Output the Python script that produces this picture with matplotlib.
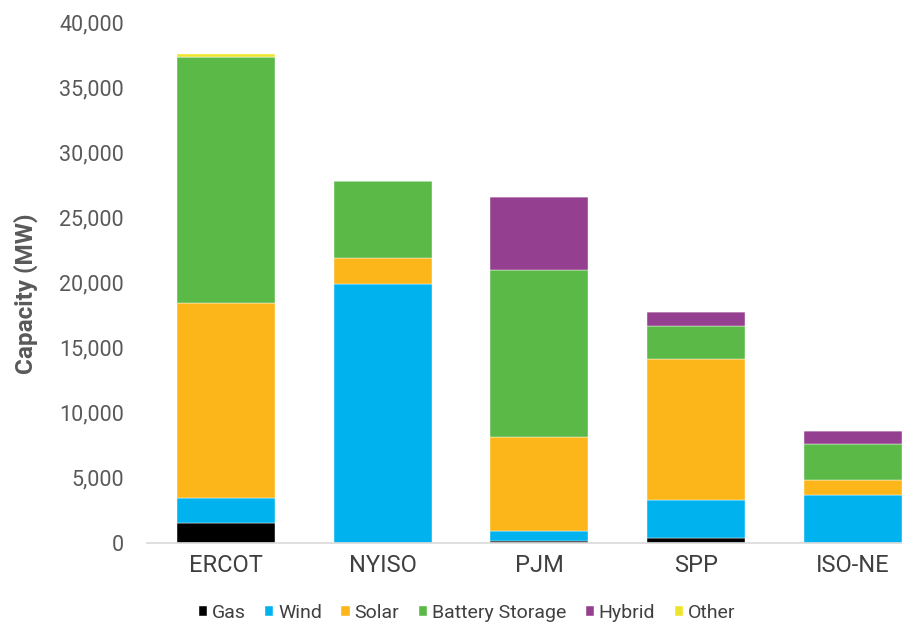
import matplotlib
matplotlib.use("Agg")
import matplotlib.pyplot as plt
import numpy as np

plt.rcParams['font.family'] = ['Roboto', 'DejaVu Sans']

regions = ["ERCOT", "NYISO", "PJM", "SPP", "ISO-NE"]
gas = [1480, 0, 120, 330, 0]
wind = [1920, 19900, 765, 2940, 3650]
solar = [15000, 1980, 7200, 10850, 1180]
battery = [18920, 5930, 12850, 2480, 2750]
hybrid = [0, 0, 5585, 1110, 1020]
other = [230, 0, 0, 0, 0]

series = [("Gas", gas, "#000000"),
          ("Wind", wind, "#00B3EE"),
          ("Solar", solar, "#FCB61A"),
          ("Battery Storage", battery, "#5AB947"),
          ("Hybrid", hybrid, "#943F8F"),
          ("Other", other, "#EEE42A")]

fig = plt.figure(figsize=(9.03, 6.23), dpi=100)
ax = fig.add_axes([0.1633, 0.1292, 0.8367, 0.8355])

x = np.arange(len(regions))
bottom = np.zeros(len(regions))
for name, vals, col in series:
    v = np.array(vals, dtype=float)
    ax.bar(x, v, width=0.625, bottom=bottom, color=col, label=name,
           edgecolor='white', linewidth=0.3)
    bottom += v

ax.set_xlim(-0.5, 4.32)
ax.set_ylim(0, 40000)
ax.set_yticks(np.arange(0, 40001, 5000))
ax.yaxis.set_major_formatter(matplotlib.ticker.FuncFormatter(lambda v, p: f"{int(v):,}"))
ax.set_xticks(x)
ax.set_xticklabels(regions)
ax.tick_params(axis='y', length=0, pad=17, labelsize=15.5, labelcolor='#595959')
ax.tick_params(axis='x', length=0, pad=8, labelsize=17, labelcolor='#404040')
for s in ['top', 'right', 'left']:
    ax.spines[s].set_visible(False)
ax.spines['bottom'].set_color('#d9d9d9')
ax.spines['bottom'].set_linewidth(1.2)

fig.text(0.029, 0.528, "Capacity (MW)", rotation=90, ha='center', va='center',
         fontsize=17.5, fontweight='bold', color='#595959')

fig.legend(loc='center', bbox_to_anchor=(0.517, 0.016), ncol=6, frameon=False,
           fontsize=14, handlelength=0.42, handleheight=0.42, handletextpad=0.25,
           columnspacing=1.0, labelcolor='#404040', borderaxespad=0)

fig.savefig("out.png", dpi=100)
